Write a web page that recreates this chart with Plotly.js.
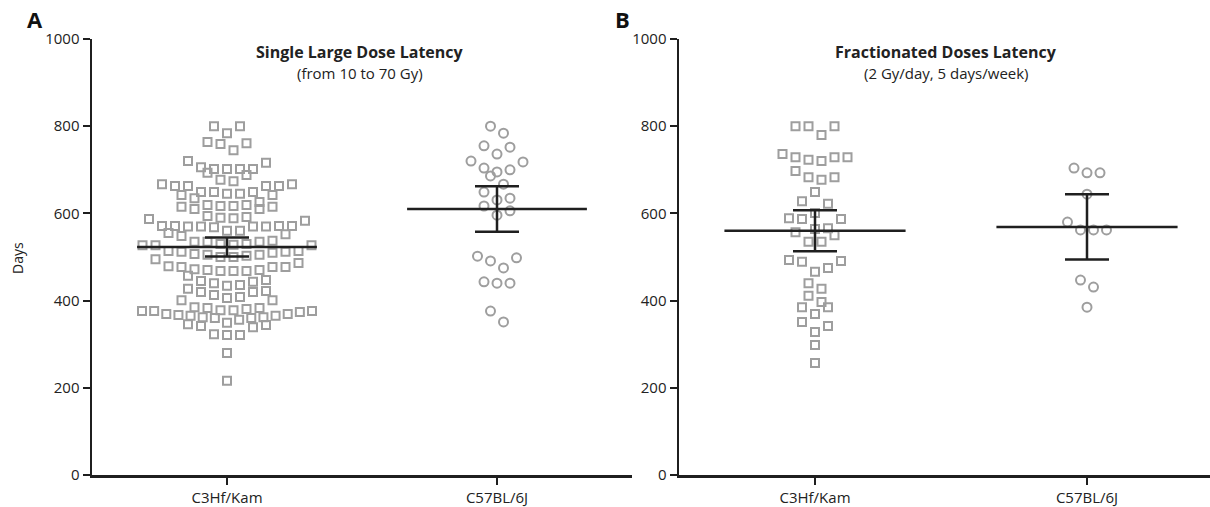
<!DOCTYPE html>
<html><head><meta charset="utf-8">
<script src="https://cdn.plot.ly/plotly-3.0.1.min.js"></script>
<style>html,body{margin:0;padding:0;background:#fff}#chart{width:1210px;height:507px}</style>
</head><body><div id="chart"></div>
<script>
// ---------- data ----------
const categories = ['C3Hf/Kam', 'C57BL/6J'];
const yTicks = [0, 200, 400, 600, 800, 1000];

const singleC3Hf = [800, 800, 784, 764, 761, 759, 745,
  720, 716, 706, 702, 702, 702, 702, 693, 688,
  677, 674, 667, 667, 663, 663, 663, 663,
  649, 649, 649, 645, 645, 642, 642, 635, 626,
  619, 619, 617, 617, 615, 615, 610, 610, 594,
  592, 590, 589, 587, 583,
  571, 571, 571, 571, 570, 570, 570, 570, 568, 560, 560, 555,
  552, 548,
  537, 535, 535, 535, 530, 530, 528, 527, 527, 527,
  514, 514, 512, 512, 510, 507, 505, 503, 495,
  505, 500, 500,
  486, 479, 477, 477, 477, 472, 470, 470, 468, 468, 468, 457,
  447, 445, 443, 440, 436, 434, 427, 422, 420, 420,
  413, 408, 406, 401, 401,
  385,
  383, 383, 381, 378, 378, 376, 376, 376, 374, 369, 369, 367, 365, 365, 362, 362, 360, 360, 356,
  349, 346, 344, 342, 339,
  323, 321, 321,
  280, 216];
const singleC57 = [800, 784, 755, 752, 736, 720, 718, 704, 700, 695, 686, 667, 649, 635, 631,
  617, 606, 596, 502, 498, 491, 475, 443, 440, 440, 376, 351];
const fracC3Hf = [800, 800, 800, 780, 736, 729, 729, 729, 723, 720, 697, 683, 683, 677, 649,
  628, 622, 601, 589, 587, 587, 566, 564, 557, 550, 535, 535, 493, 491, 489, 475, 466,
  440, 427, 411, 397, 385, 385, 369, 351, 342, 328, 298, 257];
const fracC57 = [704, 693, 693, 644, 580, 562, 562, 562, 447, 431, 385];

const singleMean = [523, 610];
const singleSem = [22, 52];
const fracMean = [560, 569];
const fracSem = [47, 75];

const panelLetters = ['A', 'B'];
const panelTitles = ['Single Large Dose Latency', 'Fractionated Doses Latency'];
const panelSubtitles = ['(from 10 to 70 Gy)', '(2 Gy/day, 5 days/week)'];
const yTitle = 'Days';

// ---------- layout geometry ----------
const W = 1210, H = 507;
const mTop = 39, mBot = 32;
const plotH = H - mTop - mBot;
const pxA = [92, 632], pxB = [679, 1210];
const unitA = 270, unitB = 272;                 // px per category unit
const rangeA = [-0.5, -0.5 + (pxA[1] - pxA[0]) / unitA];
const rangeB = [-0.5, -0.5 + (pxB[1] - pxB[0]) / unitB];
const FONT = '"Open Sans", "DejaVu Sans", sans-serif';
const DARK = '#1f1f1f';
const GREY = '#9e9e9e';

const px2x = p => p / W;
const px2y = p => 1 - (p - mTop) / plotH;

// Prism-like column scatter: group values into rows, spread each row from the centre
function swarm(values, centre, pxPerUnit) {
  const rowH = 28, step = 13, maxHalf = 85;
  const s = values.slice().sort((a, b) => a - b);
  const xs = [], ys = [];
  let i = 0;
  while (i < s.length) {
    const start = s[i], row = [];
    while (i < s.length && s[i] < start + rowH) { row.push(s[i]); i++; }
    const n = row.length;
    let st = step;
    if ((n - 1) * st / 2 > maxHalf) st = 2 * maxHalf / (n - 1);
    row.forEach((v, k) => {
      let slot;
      if (n % 2 === 1) slot = k === 0 ? 0 : (k % 2 === 1 ? (k + 1) / 2 : -k / 2);
      else slot = k % 2 === 0 ? (k / 2 + 0.5) : -((k - 1) / 2 + 0.5);
      xs.push(centre + slot * st / pxPerUnit);
      ys.push(v);
    });
  }
  return { x: xs, y: ys };
}

const traces = [];
function addPanel(c3, c57, means, sems, xa, ya, unit) {
  const a = swarm(c3, 0, unit), b = swarm(c57, 1, unit);
  traces.push({ x: a.x, y: a.y, xaxis: xa, yaxis: ya, type: 'scatter', mode: 'markers', cliponaxis: false,
    marker: { symbol: 'square-open', size: 8, color: GREY, line: { width: 2, color: GREY } }, hoverinfo: 'y' });
  traces.push({ x: b.x, y: b.y, xaxis: xa, yaxis: ya, type: 'scatter', mode: 'markers', cliponaxis: false,
    marker: { symbol: 'circle-open', size: 9, color: GREY, line: { width: 2, color: GREY } }, hoverinfo: 'y' });
  const halfW = 0.333;
  means.forEach((m, k) => {
    traces.push({ x: [k - halfW, k + halfW], y: [m, m], xaxis: xa, yaxis: ya, type: 'scatter', mode: 'lines',
      line: { color: DARK, width: 2.5 }, hoverinfo: 'skip' });
  });
  traces.push({ x: [0, 1], y: means, xaxis: xa, yaxis: ya, type: 'scatter', mode: 'markers',
    marker: { size: 1, color: 'rgba(0,0,0,0)' },
    error_y: { type: 'data', array: sems, symmetric: true, color: DARK, thickness: 2.5, width: 22 }, hoverinfo: 'skip' });
}
addPanel(singleC3Hf, singleC57, singleMean, singleSem, 'x', 'y', unitA);
addPanel(fracC3Hf, fracC57, fracMean, fracSem, 'x2', 'y2', unitB);

const tickFont = { family: FONT, size: 15, color: '#222' };
const axisBase = { showline: true, linecolor: DARK, linewidth: 2.5, ticks: 'outside', ticklen: 7, tickwidth: 2,
  tickcolor: DARK, showgrid: false, zeroline: false, tickfont: tickFont, fixedrange: true };

function ann(text, xpx, ypx, size, extra) {
  return Object.assign({ text: text, x: px2x(xpx), y: px2y(ypx), xref: 'paper', yref: 'paper', showarrow: false,
    xanchor: 'center', yanchor: 'middle', font: { family: FONT, size: size, color: '#222' } }, extra || {});
}

const layout = {
  width: W, height: H,
  margin: { l: 0, r: 0, t: mTop, b: mBot, pad: 0 },
  paper_bgcolor: '#fff', plot_bgcolor: '#fff',
  showlegend: false,
  font: { family: FONT, color: '#222' },
  xaxis: Object.assign({}, axisBase, { domain: [px2x(pxA[0]), px2x(pxA[1])], range: rangeA, tickvals: [0, 1], ticktext: categories, anchor: 'y' }),
  yaxis: Object.assign({}, axisBase, { domain: [0, 1], range: [0, 1000], tickvals: yTicks, anchor: 'x' }),
  xaxis2: Object.assign({}, axisBase, { domain: [px2x(pxB[0]), px2x(pxB[1])], range: rangeB, tickvals: [0, 1], ticktext: categories, anchor: 'y2' }),
  yaxis2: Object.assign({}, axisBase, { domain: [0, 1], range: [0, 1000], tickvals: yTicks, anchor: 'x2' }),
  annotations: [
    ann('<b>' + panelLetters[0] + '</b>', 35, 19, 22, { font: { family: FONT, size: 22, color: '#111' } }),
    ann('<b>' + panelLetters[1] + '</b>', 622, 19, 22, { font: { family: FONT, size: 22, color: '#111' } }),
    ann('<b>' + panelTitles[0] + '</b>', 360, 52, 16),
    ann(panelSubtitles[0], 360, 73, 15),
    ann('<b>' + panelTitles[1] + '</b>', 946, 52, 16),
    ann(panelSubtitles[1], 946, 73, 15),
    ann(yTitle, 17, 258, 14, { textangle: -90 })
  ]
};

Plotly.newPlot('chart', traces, layout, { staticPlot: true, displayModeBar: false });
</script>
</body></html>
